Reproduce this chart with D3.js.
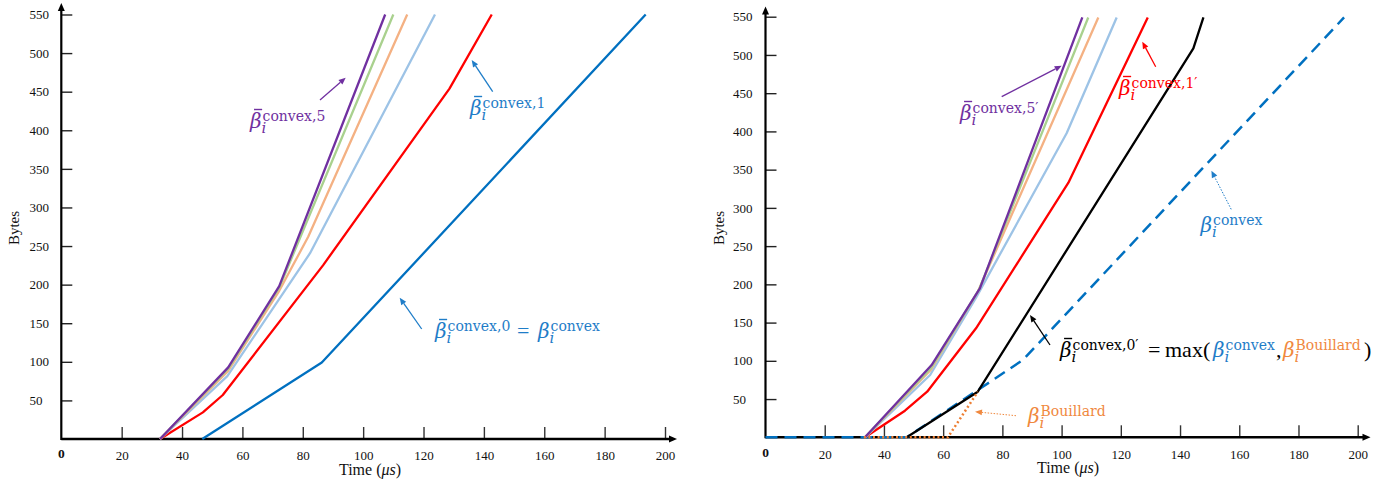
<!DOCTYPE html>
<html>
<head>
<meta charset="utf-8">
<script src="https://cdn.jsdelivr.net/npm/d3@7"></script>
<style>
  body { margin: 0; background: #fff; }
  svg { display: block; }
</style>
</head>
<body>
<svg id="chart" width="1388" height="481"></svg>
<script>
// ---- axis ticks ----
const timeTicks = [20, 40, 60, 80, 100, 120, 140, 160, 180, 200];
const byteTicks = [50, 100, 150, 200, 250, 300, 350, 400, 450, 500, 550];

// ---- left panel: convex service curves, [time (us), bytes] ----
const leftConvex0 = [[46.7, 0], [86.3, 99], [193.6, 550]];
const leftConvex1 = [[32.7, 0], [46.9, 34.5], [53.5, 57], [86.7, 225], [128.6, 454], [142.6, 550]];
const leftConvex2 = [[32.7, 0], [55.0, 81.5], [82.4, 240.7], [123.8, 550]];
const leftConvex3 = [[32.7, 0], [55.2, 88], [72.2, 192], [81.8, 262], [114.6, 550]];
const leftConvex4 = [[32.7, 0], [55.3, 91], [72.2, 196], [110.0, 550]];
const leftConvex5 = [[32.7, 0], [55.3, 92.8], [72.2, 198], [107.3, 550]];

// ---- right panel ----
const rightConvex1 = [[33.6, 0], [47.1, 34.8], [54.6, 59.6], [71.1, 142.5], [102.3, 333], [129.1, 549]];
const rightConvex2 = [[33.6, 0], [55.6, 81.5], [71.3, 183.9], [101.7, 397.6], [118.6, 549]];
const rightConvex3 = [[33.6, 0], [55.8, 88], [71.8, 191], [112.4, 549]];
const rightConvex4 = [[33.6, 0], [56.0, 91], [72.1, 193], [109.0, 549]];
const rightConvex5 = [[33.6, 0], [56.1, 94.5], [72.4, 194.8], [107.0, 549]];
const rightConvex0 = [[47.7, 0], [71.7, 59.6], [144.5, 508.6], [147.9, 549]];
const rightBetaConvex = [[0, 0], [47.7, 0], [86.9, 101], [195.4, 549]];
const rightBouillard = [[33.2, 0], [61.6, 0], [71.7, 59.6]];

const C = {
  blue: "#0070C0", red: "#FF0000", purple: "#7030A0",
  green: "#A9D18E", orange: "#F4B183", lightBlue: "#9DC3E6",
  black: "#000000", bouillard: "#ED7D31", labelBlue: "#1F7DC8", labelOrange: "#F0883E"
};
const SERIF = "Liberation Serif, Times New Roman, serif";
const MATH = "DejaVu Serif, serif";

const svg = d3.select("#chart");

// scales of the two panels
const xL = d3.scaleLinear().domain([0, 200]).range([61.3, 665]);
const yL = d3.scaleLinear().domain([0, 550]).range([439, 14.5]);
const xR = d3.scaleLinear().domain([0, 200]).range([765.5, 1357.7]);
const yR = d3.scaleLinear().domain([0, 550]).range([437.3, 16.7]);

function drawAxes(x, y, o) {
  const g = svg.append("g");
  const x0 = x(0), y0 = y(0);

  // y ticks (inside) with left-aligned labels
  const ya = g.append("g").attr("transform", `translate(${x0},0)`)
    .call(d3.axisLeft(y).tickValues(byteTicks).tickSizeInner(-11).tickSizeOuter(0));
  ya.select(".domain").remove();
  ya.selectAll(".tick line").attr("stroke", "#222").attr("stroke-width", 1.4);
  ya.selectAll(".tick text")
    .attr("x", o.yLabelX - x0).attr("text-anchor", "start")
    .attr("font-family", SERIF).attr("font-size", 13).attr("fill", "#111");

  // x ticks (upward)
  const xa = g.append("g").attr("transform", `translate(0,${y0})`)
    .call(d3.axisBottom(x).tickValues(timeTicks).tickSizeInner(-12).tickSizeOuter(0));
  xa.select(".domain").remove();
  xa.selectAll(".tick line").attr("stroke", "#333").attr("stroke-width", 1.4);
  xa.selectAll(".tick text")
    .attr("y", o.xLabelBase - y0).attr("dy", null)
    .attr("font-family", SERIF).attr("font-size", 13).attr("fill", "#111");

  // main axis lines with arrow heads
  g.append("line").attr("x1", x0).attr("x2", x0).attr("y1", y0 + 1).attr("y2", o.yTip + 6)
    .attr("stroke", "#000").attr("stroke-width", 2.2);
  g.append("path").attr("d", `M${x0},${o.yTip} L${x0 - 3.5},${o.yTip + 8} L${x0 + 3.5},${o.yTip + 8}Z`).attr("fill", "#000");
  g.append("line").attr("x1", x0).attr("x2", o.xTip - 6).attr("y1", y0).attr("y2", y0)
    .attr("stroke", "#000").attr("stroke-width", 2.6);
  g.append("path").attr("d", `M${o.xTip},${y0} L${o.xTip - 8},${y0 - 3.5} L${o.xTip - 8},${y0 + 3.5}Z`).attr("fill", "#000");

  // origin label
  g.append("text").attr("x", x0).attr("y", o.zeroBase).attr("text-anchor", "middle")
    .attr("font-family", SERIF).attr("font-size", 13.5).attr("font-weight", "bold").attr("fill", "#111").text("0");

  // axis titles
  const t = g.append("text").attr("x", o.timeX).attr("y", o.timeBase).attr("text-anchor", "middle")
    .attr("font-family", SERIF).attr("font-size", 16).attr("fill", "#111");
  t.append("tspan").text("Time (");
  t.append("tspan").attr("font-style", "italic").text("μs");
  t.append("tspan").text(")");
  g.append("text").attr("transform", `translate(${o.bytesX},228) rotate(-90)`)
    .attr("text-anchor", "middle").attr("dominant-baseline", "central")
    .attr("font-family", SERIF).attr("font-size", 15).attr("fill", "#111").text("Bytes");
}

drawAxes(xL, yL, { yLabelX: 29.5, xLabelBase: 460, zeroBase: 457.5, yTip: 3, xTip: 677, timeX: 370, timeBase: 475, bytesX: 14 });
drawAxes(xR, yR, { yLabelX: 733, xLabelBase: 459, zeroBase: 457, yTip: 6.5, xTip: 1370.5, timeX: 1068, timeBase: 473, bytesX: 719 });

function curve(x, y, data, color, opts = {}) {
  const line = d3.line().x(d => x(d[0])).y(d => y(d[1]));
  svg.append("path").datum(data).attr("d", line)
    .attr("fill", "none").attr("stroke", color)
    .attr("stroke-width", opts.width || 2.3)
    .attr("stroke-linejoin", "round")
    .attr("stroke-dasharray", opts.dash || null);
}

// left panel curves
curve(xL, yL, leftConvex0, C.blue);
curve(xL, yL, leftConvex1, C.red);
curve(xL, yL, leftConvex2, C.lightBlue);
curve(xL, yL, leftConvex3, C.orange);
curve(xL, yL, leftConvex4, C.green);
curve(xL, yL, leftConvex5, C.purple);

// right panel curves
curve(xR, yR, rightBetaConvex, C.blue, { dash: "12,7", width: 2.5 });
curve(xR, yR, rightConvex1, C.red);
curve(xR, yR, rightConvex2, C.lightBlue);
curve(xR, yR, rightConvex3, C.orange);
curve(xR, yR, rightConvex4, C.green);
curve(xR, yR, rightConvex5, C.purple);
curve(xR, yR, rightConvex0, C.black);
curve(xR, yR, rightBouillard, C.bouillard, { dash: "2,2.6", width: 2.5 });

// ---- annotations ----
function arrow(x1, y1, x2, y2, color, dotted) {
  const ang = Math.atan2(y2 - y1, x2 - x1);
  const L = 7, W = 3;
  const bx = x2 - L * Math.cos(ang), by = y2 - L * Math.sin(ang);
  svg.append("line").attr("x1", x1).attr("y1", y1).attr("x2", bx).attr("y2", by)
    .attr("stroke", color).attr("stroke-width", dotted ? 1 : 1.3)
    .attr("stroke-dasharray", dotted ? "1.5,1.5" : null);
  const px = -Math.sin(ang) * W, py = Math.cos(ang) * W;
  svg.append("path")
    .attr("d", `M${x2},${y2} L${bx + px},${by + py} L${bx - px},${by - py}Z`)
    .attr("fill", color);
}

// β with optional bar, italic subscript i and an upright superscript
function mathLabel(x0, base, parts) {
  const g = svg.append("g");
  let cx = x0;
  for (const p of parts) {
    if (p.x !== undefined) cx = p.x;
    if (p.beta) {
      const b = g.append("text").attr("x", cx).attr("y", base)
        .attr("font-family", MATH).attr("font-style", "italic").attr("font-size", 20)
        .attr("fill", p.color).text("β");
      const bw = b.node().getComputedTextLength();
      if (p.bar) {
        g.append("line").attr("x1", cx + bw * 0.35).attr("x2", cx + bw * 1.05)
          .attr("y1", base - 18.5).attr("y2", base - 18.5)
          .attr("stroke", p.color).attr("stroke-width", 1.4);
      }
      const sub = g.append("text").attr("x", cx + bw).attr("y", base + 5)
        .attr("font-family", MATH).attr("font-style", "italic").attr("font-size", 15)
        .attr("fill", p.color).text("i");
      const sup = g.append("text").attr("x", cx + bw + 1).attr("y", base - 7)
        .attr("font-family", MATH).attr("font-size", 14)
        .attr("fill", p.color).text(p.sup);
      cx += bw + 1 + Math.max(sub.node().getComputedTextLength(), sup.node().getComputedTextLength());
    } else {
      const t = g.append("text").attr("x", cx).attr("y", base)
        .attr("font-family", SERIF).attr("font-size", p.size || 22)
        .attr("fill", p.color).text(p.text);
      cx += t.node().getComputedTextLength();
    }
  }
}

// left panel labels
mathLabel(250, 128, [{ beta: true, bar: true, sup: "convex,5", color: C.purple }]);
arrow(320, 100, 345.7, 77.7, C.purple);

mathLabel(470, 115, [{ beta: true, bar: true, sup: "convex,1", color: C.labelBlue }]);
arrow(492.7, 91.7, 471.7, 60, C.labelBlue);

mathLabel(435, 338, [
  { beta: true, bar: true, sup: "convex,0", color: C.labelBlue },
  { x: 517, text: "=", color: C.labelBlue },
  { x: 538, beta: true, sup: "convex", color: C.labelBlue }
]);
arrow(421.7, 329, 399.7, 297.7, C.labelBlue);

// right panel labels
mathLabel(960, 120, [{ beta: true, bar: true, sup: "convex,5′", color: C.purple }]);
arrow(1001.7, 96.7, 1061.7, 65.7, C.purple);

mathLabel(1119, 95, [{ beta: true, bar: true, sup: "convex,1′", color: C.red }]);
arrow(1155.7, 66.7, 1142.3, 41.7, C.red);

mathLabel(1200.5, 232, [{ beta: true, sup: "convex", color: C.labelBlue }]);
arrow(1231.2, 209.3, 1211.4, 170.7, C.labelBlue, true);

mathLabel(1060, 357, [
  { beta: true, bar: true, sup: "convex,0′", color: C.black },
  { x: 1148, text: "=", color: C.black },
  { x: 1165, text: "max(", color: C.black },
  { x: 1213, beta: true, sup: "convex", color: C.labelBlue },
  { x: 1276, text: ",", color: C.black },
  { x: 1283, beta: true, sup: "Bouillard", color: C.labelOrange },
  { x: 1364, text: ")", color: C.black }
]);
arrow(1050, 345, 1030, 315, C.black);

mathLabel(1028, 423, [{ beta: true, sup: "Bouillard", color: C.labelOrange }]);
arrow(1016, 415.7, 975, 411.7, C.labelOrange, true);
</script>
</body>
</html>
